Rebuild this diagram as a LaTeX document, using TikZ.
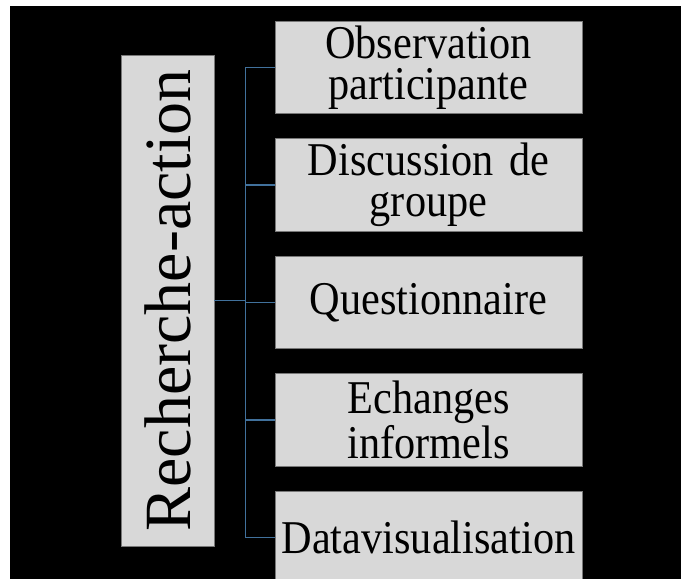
\documentclass[tikz,border=0pt]{standalone}
\usepackage{fontspec}
\setmainfont{Liberation Serif}
\newfontfamily\itemfont[FakeStretch=0.9]{Liberation Serif}
\usetikzlibrary{positioning}
\definecolor{boxgrey}{RGB}{216,216,216}
\definecolor{edgegrey}{RGB}{120,120,120}
\definecolor{linkblue}{RGB}{65,113,156}
\tikzset{
    itembox/.style={rectangle, draw=edgegrey, fill=boxgrey, line width=0.8pt, minimum width=307pt, minimum height=92.5pt, inner sep=0pt, text width=305pt, align=center, font=\itemfont\fontsize{47}{41}\selectfont},
    rootbox/.style={rectangle, draw=edgegrey, fill=boxgrey, line width=0.8pt, minimum width=491pt, minimum height=93pt, inner sep=0pt, rotate=90, font=\fontsize{66}{70}\selectfont},
    link/.style={draw=linkblue, line width=1.1pt},
}

\begin{document}
\begin{tikzpicture}[x=1pt, y=-1pt, node distance=24.2pt]

% page and black backdrop
\useasboundingbox (0,0) rectangle (681,579);
\fill[white] (0,0) rectangle (681,579);
\fill[black] (10,6) rectangle (681,579);

% root box on the left (rotated: its south side faces right)
\node[rootbox] (root) at (167.5,300.5) {Recherche-action};

% column of methods
\node[itembox] (obs) at (428.5,67.5) {Observation\\participante};
\node[itembox, below=of obs] (disc) {Discussion de\\groupe};
\node[itembox, below=of disc] (quest) {Questionnaire};
\node[itembox, below=of quest] (ech) {Echanges\\informels};
\node[itembox, below=of ech] (dataviz) {Datavisualisation};

% connectors
\coordinate[right=30.7pt of root.south] (trunk);
\draw[link] (root.south) -- (trunk);
\draw[link] (trunk) |- (obs.west);
\draw[link] (trunk) |- (disc.west);
\draw[link] (trunk) |- (quest.west);
\draw[link] (trunk) |- (ech.west);
\draw[link] (trunk) |- (dataviz.west);

\end{tikzpicture}
\end{document}
